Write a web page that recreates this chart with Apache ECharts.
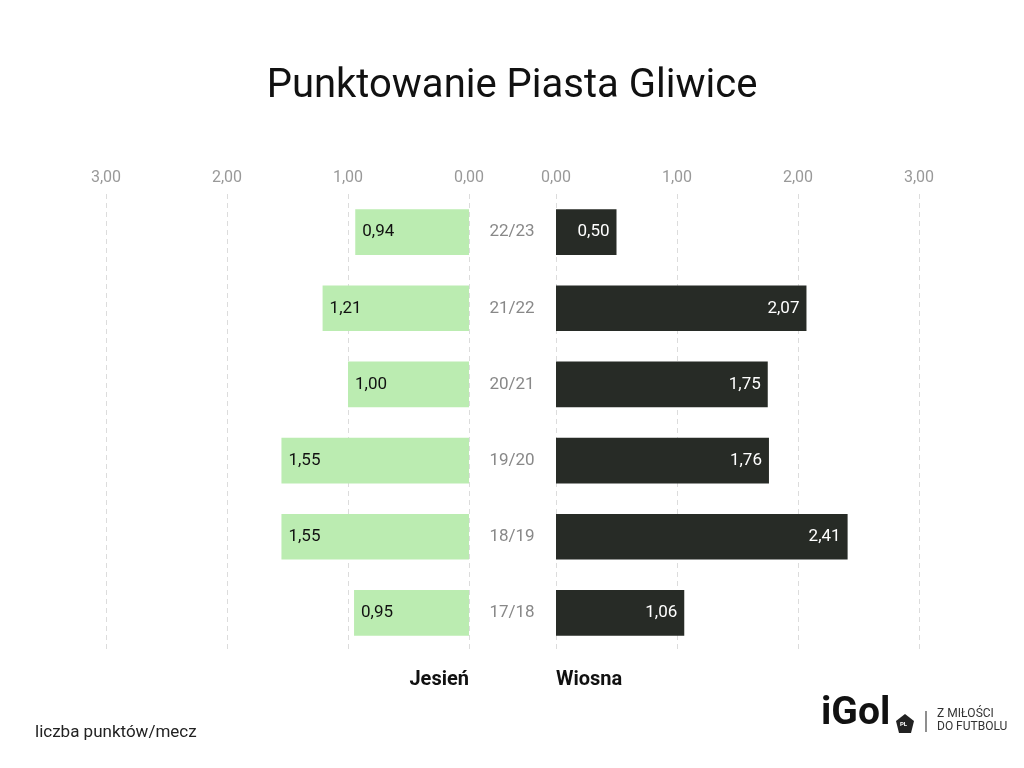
<!DOCTYPE html>
<html>
<head>
<meta charset="utf-8">
<script src="https://cdn.jsdelivr.net/npm/echarts@6/dist/echarts.min.js"></script>
<style>
html,body{margin:0;padding:0;background:#fff;}
#chart{width:1024px;height:768px;}
</style>
</head>
<body>
<div id="chart"></div>
<script>
var seasons = ['22/23', '21/22', '20/21', '19/20', '18/19', '17/18'];
var jesien = [0.94, 1.21, 1.00, 1.55, 1.55, 0.95];
var wiosna = [0.50, 2.07, 1.75, 1.76, 2.41, 1.06];
var axisTicks = [0, 1, 2, 3];

function fmt(v) { return v.toFixed(2).replace('.', ','); }

var chart = echarts.init(document.getElementById('chart'));
var FONT = 'Roboto';
var GREEN = '#bbecb1';
var DARK = '#272b26';

var xCommon = {
  type: 'value', min: axisTicks[0], max: axisTicks[axisTicks.length - 1], interval: 1,
  position: 'top',
  axisLine: { show: false }, axisTick: { show: false },
  axisLabel: { formatter: function (v) { return fmt(v); }, color: '#999', fontSize: 16, fontFamily: FONT, margin: 8 },
  splitLine: { show: true, lineStyle: { color: '#dcdcdc', type: [5, 4], width: 1 } }
};

chart.setOption({
  backgroundColor: '#fff',
  animation: false,
  title: {
    text: 'Punktowanie Piasta Gliwice', left: 'center', top: 62,
    textStyle: { fontFamily: FONT, fontSize: 40, fontWeight: 'normal', color: '#111' }
  },
  grid: [
    { left: 106, right: 555, top: 194, bottom: 117 },
    { left: 556, right: 105, top: 194, bottom: 117 }
  ],
  xAxis: [
    Object.assign({}, xCommon, { gridIndex: 0, inverse: true }),
    Object.assign({}, xCommon, { gridIndex: 1 })
  ],
  yAxis: [
    { type: 'category', gridIndex: 0, data: seasons, inverse: true, position: 'right',
      axisLine: { show: false }, axisTick: { show: false }, axisLabel: { show: false } },
    { type: 'category', gridIndex: 1, data: seasons, inverse: true, position: 'left',
      axisLine: { show: false }, axisTick: { show: false },
      axisLabel: { color: '#888', fontSize: 17, fontFamily: FONT, align: 'center', margin: 44 } }
  ],
  series: [
    { type: 'bar', xAxisIndex: 0, yAxisIndex: 0, data: jesien, barWidth: '60%',
      itemStyle: { color: GREEN },
      label: { show: true, position: 'insideLeft', formatter: function (p) { return fmt(p.value); },
        color: '#111', fontSize: 17, fontFamily: FONT, distance: 7 } },
    { type: 'bar', xAxisIndex: 1, yAxisIndex: 1, data: wiosna, barWidth: '60%',
      itemStyle: { color: DARK },
      label: { show: true, position: 'insideRight', formatter: function (p) { return fmt(p.value); },
        color: '#fff', fontSize: 17, fontFamily: FONT, distance: 7 } }
  ],
  graphic: [
    { type: 'text', right: 1024 - 469, top: 670,
      style: { text: 'Jesień', font: 'bold 20px Roboto', fill: '#111', textAlign: 'right' } },
    { type: 'text', left: 556, top: 670,
      style: { text: 'Wiosna', font: 'bold 20px Roboto', fill: '#111' } },
    { type: 'text', left: 35, top: 724,
      style: { text: 'liczba punktów/mecz', font: '17px Roboto', fill: '#222' } },
    { type: 'text', left: 821, top: 695,
      style: { text: 'iGol', font: 'bold 39px Roboto', fill: '#111' } },
    { type: 'polygon', shape: { points: [[905, 714], [914, 721], [911, 733], [899, 733], [896, 721]] },
      style: { fill: '#222' } },
    { type: 'text', left: 900, top: 721,
      style: { text: 'PL', font: 'bold 6px Roboto', fill: '#fff' } },
    { type: 'line', shape: { x1: 926, y1: 711, x2: 926, y2: 732 }, style: { stroke: '#444', lineWidth: 1.2 } },
    { type: 'text', left: 937, top: 708,
      style: { text: 'Z MIŁOŚCI', font: '12px Roboto', fill: '#333' } },
    { type: 'text', left: 937, top: 721,
      style: { text: 'DO FUTBOLU', font: '12px Roboto', fill: '#333' } }
  ]
});
</script>
</body>
</html>
